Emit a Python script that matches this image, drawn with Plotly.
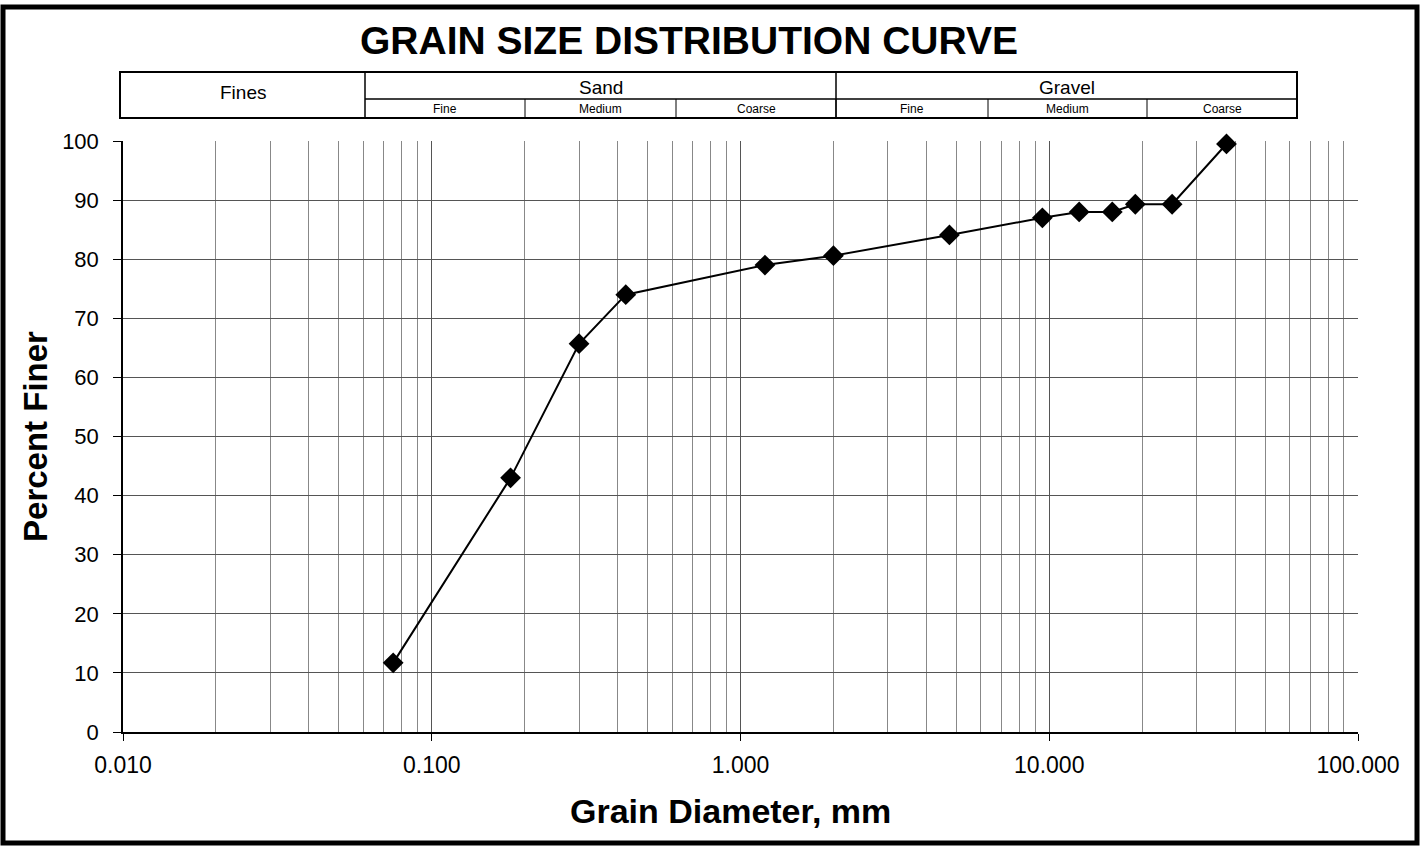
import plotly.graph_objects as go

# sieve results
grain_mm = [0.075, 0.18, 0.30, 0.425, 1.2, 2.0, 4.75, 9.5, 12.5, 16.0, 19.0, 25.0, 37.5]
pct_finer = [11.7, 43.0, 65.7, 74.0, 79.0, 80.6, 84.1, 87.0, 88.0, 88.0, 89.3, 89.3, 99.5]

x_ticks = [0.01, 0.1, 1, 10, 100]
x_tick_text = ["0.010", "0.100", "1.000", "10.000", "100.000"]

main_groups = ["Fines", "Sand", "Gravel"]
sub_groups = ["Fine", "Medium", "Coarse", "Fine", "Medium", "Coarse"]

W, H = 1427, 846
L, R, T, B = 123, 1358, 141, 732
FONT = "Arial, Liberation Sans, sans-serif"


def px(x):
    return (x - L) / (R - L)


def py(y):
    return (B - y) / (B - T)


fig = go.Figure()

fig.add_trace(go.Scatter(
    x=grain_mm, y=pct_finer,
    mode="lines+markers",
    line=dict(color="black", width=2),
    marker=dict(symbol="diamond", size=16, color="black"),
    cliponaxis=False,
    showlegend=False
))

shapes = []
annotations = []

# outer frame
shapes.append(dict(type="rect", xref="paper", yref="paper",
                   x0=px(3), x1=px(1417), y0=py(843), y1=py(7),
                   line=dict(color="black", width=5)))

# header table
tbl_top, tbl_mid, tbl_bot = 72, 99, 118
main_edges = [120, 365, 836, 1297]
sub_edges = [365, 525, 676, 836, 988, 1147, 1297]
shapes.append(dict(type="rect", xref="paper", yref="paper",
                   x0=px(main_edges[0]), x1=px(main_edges[-1]),
                   y0=py(tbl_bot), y1=py(tbl_top),
                   line=dict(color="black", width=2)))
for e in main_edges[1:-1]:
    shapes.append(dict(type="line", xref="paper", yref="paper",
                       x0=px(e), x1=px(e), y0=py(tbl_bot), y1=py(tbl_top),
                       line=dict(color="black", width=1.5)))
shapes.append(dict(type="line", xref="paper", yref="paper",
                   x0=px(sub_edges[0]), x1=px(sub_edges[-1]),
                   y0=py(tbl_mid), y1=py(tbl_mid),
                   line=dict(color="black", width=1.5)))
for e in sub_edges[1:-1]:
    shapes.append(dict(type="line", xref="paper", yref="paper",
                       x0=px(e), x1=px(e), y0=py(tbl_bot), y1=py(tbl_mid),
                       line=dict(color="black", width=1)))

annotations.append(dict(text=main_groups[0], xref="paper", yref="paper",
                        x=px((main_edges[0] + main_edges[1]) / 2), y=py(93),
                        xanchor="center", yanchor="middle",
                        showarrow=False, font=dict(size=19, family=FONT, color="black")))
for i, name in enumerate(main_groups[1:]):
    annotations.append(dict(text=name, xref="paper", yref="paper",
                            x=px((main_edges[i + 1] + main_edges[i + 2]) / 2), y=py(88),
                            xanchor="center", yanchor="middle",
                            showarrow=False, font=dict(size=19, family=FONT, color="black")))
for i, name in enumerate(sub_groups):
    annotations.append(dict(text=name, xref="paper", yref="paper",
                            x=px((sub_edges[i] + sub_edges[i + 1]) / 2), y=py(109),
                            xanchor="center", yanchor="middle",
                            showarrow=False, font=dict(size=12, family=FONT, color="black")))

# x axis title placed by hand (slightly left of the plot centre in the original)
annotations.append(dict(text="<b>Grain Diameter, mm</b>", xref="paper", yref="paper",
                        x=px(730), y=py(811), xanchor="center", yanchor="middle",
                        showarrow=False, font=dict(size=34, family=FONT, color="black")))

fig.update_layout(
    width=W, height=H,
    margin=dict(l=L, r=W - R, t=T, b=H - B),
    paper_bgcolor="white", plot_bgcolor="white",
    title=dict(text="<b>GRAIN SIZE DISTRIBUTION CURVE</b>", x=689 / W, xanchor="center",
               y=1 - 40 / H, yanchor="middle",
               font=dict(size=39, family=FONT, color="black")),
    font=dict(family=FONT, color="black"),
    shapes=shapes,
    annotations=annotations,
)

fig.update_xaxes(
    type="log", range=[-2, 2],
    tickvals=x_ticks, ticktext=x_tick_text,
    tickfont=dict(size=23, family=FONT, color="black"),
    ticks="outside", ticklen=7, tickcolor="black", ticklabelstandoff=5,
    showgrid=True, gridcolor="#555555", gridwidth=1,
    minor=dict(dtick="D1", showgrid=True, gridcolor="#888888", gridwidth=1, ticks=""),
    showline=True, linecolor="black", linewidth=1.5,
    zeroline=False
)
fig.update_yaxes(
    range=[0, 100], dtick=10,
    tickfont=dict(size=22, family=FONT, color="black"),
    ticks="outside", ticklen=8, tickcolor="black", ticklabelstandoff=10,
    showgrid=True, gridcolor="#555555", gridwidth=1,
    showline=True, linecolor="black", linewidth=1.5,
    title=dict(text="<b>Percent Finer</b>", font=dict(size=33, family=FONT, color="black"),
               standoff=5),
    zeroline=False
)

fig.write_html("out.html", config={"displayModeBar": False},
               post_script="document.body.style.margin='0px';")
